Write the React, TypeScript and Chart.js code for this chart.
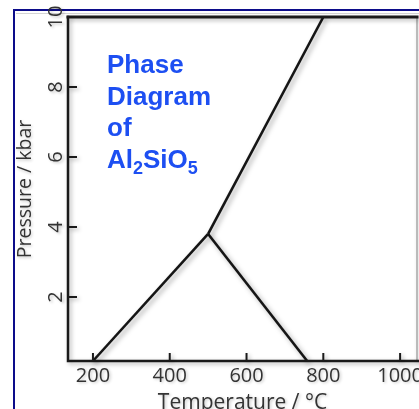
import React, { useEffect, useRef } from 'react';
import { Chart, registerables } from 'chart.js';

Chart.register(...registerables);

// ---- data ----
const X_MIN = 135;
const X_MAX = 1044;
const Y_MIN = 0.17;
const Y_MAX = 10;
const xTickValues = [200, 400, 600, 800, 1000];
const yTickValues = [2, 4, 6, 8, 10];
const kyaniteAndalusite = [
  { x: 200, y: 0.17 },
  { x: 500, y: 3.8 },
];
const kyaniteSillimanite = [
  { x: 500, y: 3.8 },
  { x: 800, y: 10 },
];
const andalusiteSillimanite = [
  { x: 500, y: 3.8 },
  { x: 758, y: 0.17 },
];
const xTitle = 'Temperature / °C';
const yTitle = 'Pressure / kbar';
const noteLines = ['Phase', 'Diagram', 'of'];
const formulaParts = [
  { t: 'Al', sub: false },
  { t: '2', sub: true },
  { t: 'SiO', sub: false },
  { t: '5', sub: true },
];

const AXIS_COLOR = '#1a1a1a';
const TEXT_COLOR = '#333333';
const NOTE_COLOR = '#1d4ff2';

const decorPlugin = {
  id: 'decor',
  beforeDraw(chart: any) {
    const ctx = chart.ctx;
    const W = chart.width;
    const H = chart.height;
    ctx.save();
    ctx.fillStyle = '#ffffff';
    ctx.fillRect(0, 0, W, H);
    // faint gray line under the frame
    ctx.strokeStyle = '#d4d4d4';
    ctx.lineWidth = 1;
    ctx.beginPath();
    ctx.moveTo(16, 13.5);
    ctx.lineTo(W, 13.5);
    ctx.stroke();
    // navy frame (left and top)
    ctx.strokeStyle = '#0c0c8a';
    ctx.lineWidth = 2;
    ctx.beginPath();
    ctx.moveTo(14, H);
    ctx.lineTo(14, 10);
    ctx.lineTo(W, 10);
    ctx.stroke();
    ctx.restore();
    // soft shadow for axis texts
    ctx.save();
    ctx.shadowColor = 'rgba(0,0,0,0.22)';
    ctx.shadowBlur = 3;
    ctx.shadowOffsetX = 1.5;
    ctx.shadowOffsetY = 1.5;
  },
  beforeDatasetsDraw(chart: any) {
    const ctx = chart.ctx;
    ctx.save();
    ctx.shadowColor = 'rgba(0,0,0,0.35)';
    ctx.shadowBlur = 5;
    ctx.shadowOffsetX = 2.5;
    ctx.shadowOffsetY = 2.5;
  },
  afterDatasetsDraw(chart: any) {
    const ctx = chart.ctx;
    ctx.restore();
    ctx.restore();
    const { left, top, right, bottom } = chart.chartArea;
    const W = chart.width;
    const xs = chart.scales.x;
    const ys = chart.scales.y;

    ctx.save();
    ctx.shadowColor = 'rgba(0,0,0,0.3)';
    ctx.shadowBlur = 4;
    ctx.shadowOffsetX = 2;
    ctx.shadowOffsetY = 2;
    // right border (gray)
    ctx.strokeStyle = '#a8a8a8';
    ctx.lineWidth = 1.5;
    ctx.beginPath();
    ctx.moveTo(right, top);
    ctx.lineTo(right, bottom);
    ctx.stroke();
    // black axes
    ctx.strokeStyle = AXIS_COLOR;
    ctx.lineCap = 'square';
    ctx.lineWidth = 3;
    ctx.beginPath();
    ctx.moveTo(left, top);
    ctx.lineTo(right, top);
    ctx.stroke();
    ctx.lineWidth = 2.5;
    ctx.beginPath();
    ctx.moveTo(left, top);
    ctx.lineTo(left, bottom);
    ctx.lineTo(W, bottom);
    ctx.stroke();
    // inward ticks
    ctx.lineWidth = 2;
    ctx.lineCap = 'butt';
    ctx.beginPath();
    for (const v of xTickValues) {
      const px = xs.getPixelForValue(v);
      ctx.moveTo(px, bottom);
      ctx.lineTo(px, bottom - 8);
    }
    for (const v of yTickValues) {
      if (v >= Y_MAX) continue;
      const py = ys.getPixelForValue(v);
      ctx.moveTo(left, py);
      ctx.lineTo(left + 9, py);
    }
    ctx.stroke();
    ctx.restore();

    // annotation text
    ctx.save();
    ctx.fillStyle = NOTE_COLOR;
    ctx.textBaseline = 'alphabetic';
    ctx.textAlign = 'left';
    const mainFont = 'bold 26px "Liberation Sans", Arial, sans-serif';
    const subFont = 'bold 18px "Liberation Sans", Arial, sans-serif';
    const x0 = left + 39;
    const y0 = top + 56;
    const step = 31.6;
    ctx.font = mainFont;
    noteLines.forEach((line, i) => {
      ctx.fillText(line, x0, y0 + i * step);
    });
    let cx = x0;
    const fy = y0 + noteLines.length * step;
    for (const p of formulaParts) {
      ctx.font = p.sub ? subFont : mainFont;
      ctx.fillText(p.t, cx, p.sub ? fy + 6.5 : fy);
      cx += ctx.measureText(p.t).width;
    }
    ctx.restore();
  },
};

export default function App() {
  const canvasRef = useRef<HTMLCanvasElement | null>(null);

  useEffect(() => {
    const canvas = canvasRef.current;
    if (!canvas) return;
    const lineStyle = {
      showLine: true,
      borderColor: '#151515',
      borderWidth: 2.6,
      pointRadius: 0,
      pointHoverRadius: 0,
      fill: false,
      clip: false as any,
    };
    const chart = new Chart(canvas, {
      type: 'scatter',
      data: {
        datasets: [
          { label: 'Kyanite–Andalusite', data: kyaniteAndalusite, ...lineStyle },
          { label: 'Kyanite–Sillimanite', data: kyaniteSillimanite, ...lineStyle },
          { label: 'Andalusite–Sillimanite', data: andalusiteSillimanite, ...lineStyle },
        ],
      },
      options: {
        responsive: false,
        animation: false,
        events: [],
        layout: { autoPadding: false, padding: { left: 0, top: 17, right: 2, bottom: 0 } },
        plugins: {
          legend: { display: false },
          tooltip: { enabled: false },
          title: { display: false },
        },
        scales: {
          x: {
            type: 'linear',
            position: 'bottom',
            min: X_MIN,
            max: X_MAX,
            afterBuildTicks: (s: any) => {
              s.ticks = xTickValues.map((v) => ({ value: v }));
            },
            afterFit: (s: any) => {
              s.height = 48;
              s.paddingLeft = 0;
              s.paddingRight = 0;
              s.paddingTop = 0;
              s.paddingBottom = 0;
            },
            grid: { display: false, drawTicks: false },
            border: { display: false },
            ticks: {
              autoSkip: false,
              minRotation: 0,
              maxRotation: 0,
              padding: 3,
              color: TEXT_COLOR,
              font: { family: '"Open Sans", sans-serif', size: 20 },
              callback: (v: any) => String(v),
            },
            title: {
              display: true,
              text: xTitle,
              color: TEXT_COLOR,
              font: { family: '"Open Sans", sans-serif', size: 21, lineHeight: 1 },
              padding: { top: 0, bottom: -4.5 },
            },
          },
          y: {
            type: 'linear',
            position: 'left',
            min: Y_MIN,
            max: Y_MAX,
            afterBuildTicks: (s: any) => {
              s.ticks = yTickValues.map((v) => ({ value: v }));
            },
            afterFit: (s: any) => {
              s.width = 68;
              s.paddingLeft = 0;
              s.paddingRight = 0;
              s.paddingTop = 0;
              s.paddingBottom = 0;
            },
            grid: { display: false, drawTicks: false },
            border: { display: false },
            ticks: {
              autoSkip: false,
              minRotation: 90,
              maxRotation: 90,
              crossAlign: 'center',
              padding: 0,
              color: TEXT_COLOR,
              font: { family: '"Open Sans", sans-serif', size: 20 },
              callback: (v: any) => String(v),
            },
            title: {
              display: true,
              text: yTitle,
              color: TEXT_COLOR,
              font: { family: '"Open Sans", sans-serif', size: 19.5, lineHeight: 1 },
              padding: { top: 15.6, bottom: 0 },
            },
          },
        },
      } as any,
      plugins: [decorPlugin],
    });
    return () => chart.destroy();
  }, []);

  return (
    <div
      style={{
        position: 'fixed',
        left: 0,
        top: 0,
        width: 419,
        height: 409,
        background: '#ffffff',
        overflow: 'hidden',
      }}
    >
      <canvas ref={canvasRef} width={419} height={409} style={{ display: 'block', width: 419, height: 409 }} />
    </div>
  );
}
